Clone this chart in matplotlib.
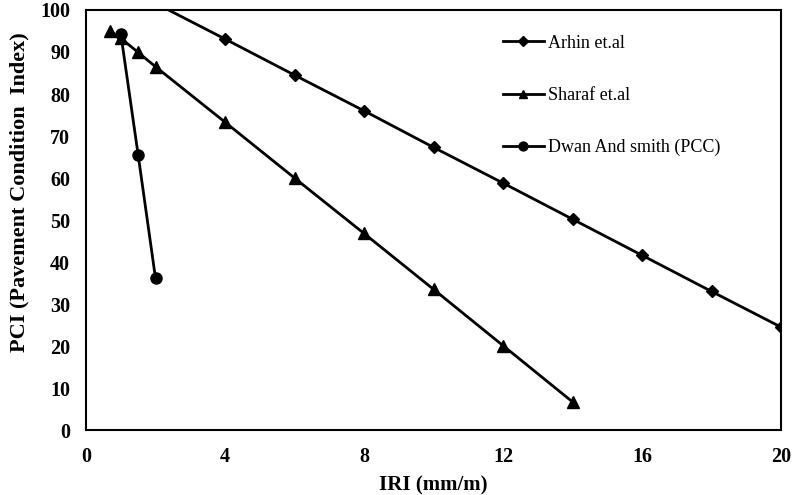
import matplotlib
matplotlib.use("Agg")
import matplotlib.pyplot as plt

plt.rcParams['font.family'] = ['Liberation Serif', 'DejaVu Serif']

arhin_x = [2, 4, 6, 8, 10, 12, 14, 16, 18, 20]
arhin_y = [101.6, 93.1, 84.5, 76.0, 67.3, 58.8, 50.2, 41.6, 33.0, 24.5]

sharaf_x = [0.7, 1.0, 1.5, 2.0, 4, 6, 8, 10, 12, 14]
sharaf_y = [94.9, 93.3, 89.9, 86.5, 73.3, 60.0, 46.8, 33.5, 20.1, 6.7]

dwan_x = [1.0, 1.5, 2.0]
dwan_y = [94.4, 65.5, 36.1]

xticks = [0, 4, 8, 12, 16, 20]
yticks = [0, 10, 20, 30, 40, 50, 60, 70, 80, 90, 100]

fig = plt.figure(figsize=(7.95, 4.95), dpi=100)
ax = fig.add_axes([0.1082, 0.1313, 0.8742, 0.8485])

ax.plot(arhin_x, arhin_y, color='black', lw=2, marker='D', ms=6, label='Arhin et.al')
ax.plot(sharaf_x, sharaf_y, color='black', lw=2, marker='^', ms=8, label='Sharaf et.al')
ax.plot(dwan_x, dwan_y, color='black', lw=2, marker='o', ms=8, label='Dwan And smith (PCC)')

ax.set_xlim(0, 20)
ax.set_ylim(0, 100)
ax.set_xticks(xticks)
ax.set_yticks(yticks)
ax.tick_params(axis='x', length=0, labelsize=14.5, pad=12)
ax.tick_params(axis='y', length=0, labelsize=14.5, pad=11.5)
for lab in ax.get_xticklabels() + ax.get_yticklabels():
    lab.set_fontweight('bold')
for sp in ax.spines.values():
    sp.set_linewidth(1.5)

ax.set_xlabel('IRI (mm/m)', fontsize=15, fontweight='bold', labelpad=6)
ax.set_ylabel('PCI (Pavement Condition  Index)', fontsize=16, fontweight='bold')
ax.yaxis.set_label_coords(-0.082, 0.567)

leg = ax.legend(loc='upper left', bbox_to_anchor=(0.576, 0.98), frameon=False,
                fontsize=13, labelspacing=1.95, handlelength=2.3, handletextpad=0.2,
                markerscale=0.8)

fig.savefig('out.png', dpi=100)
